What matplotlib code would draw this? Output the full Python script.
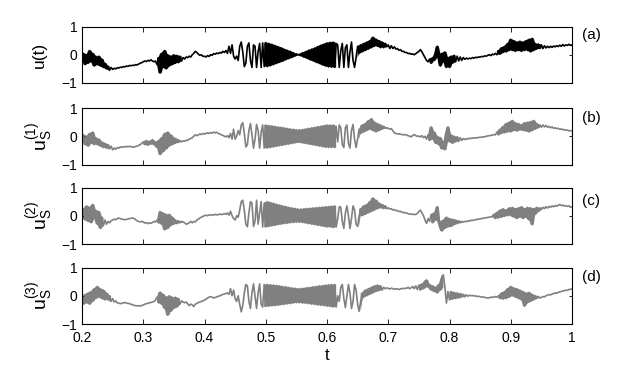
import numpy as np
import matplotlib
matplotlib.use('Agg')
import matplotlib.pyplot as plt

plt.rcParams['font.family'] = ['Liberation Sans', 'DejaVu Sans']
plt.rcParams['mathtext.fontset'] = 'custom'
plt.rcParams['mathtext.rm'] = 'Liberation Sans'
plt.rcParams['mathtext.it'] = 'Liberation Sans:italic'

# intervalo de tempo (amostras a cada 0.0025)
t_inicio = 0.2
t_fim = 1.0

# u(t) - sinal original
u_a = [
  -0.10, 0.05, -0.35, 0.00, -0.30, 0.15, -0.25, 0.05, -0.40, -0.05, -0.35, -0.05, -0.40, -0.15, -0.45, -0.30, -0.50, -0.40, -0.55, -0.45,
  -0.52, -0.48, -0.50, -0.46, -0.47, -0.44, -0.45, -0.42, -0.43, -0.40, -0.41, -0.38, -0.39, -0.37, -0.38, -0.35, -0.36, -0.33, -0.30, -0.28,
  -0.25, -0.22, -0.24, -0.20, -0.22, -0.18, -0.22, -0.25, -0.22, -0.35, -0.10, -0.65, 0.05, -0.45, 0.15, -0.50, 0.00, -0.40, -0.05, -0.35,
  0.00, -0.30, -0.02, -0.28, -0.05, -0.22, -0.10, -0.15, -0.08, -0.10, -0.05, -0.08, 0.00, 0.05, 0.12, 0.08, 0.02, -0.02, 0.00, -0.06,
  -0.05, -0.08, -0.03, -0.06, 0.00, -0.02, 0.04, 0.02, 0.06, 0.04, 0.08, 0.06, 0.12, 0.08, 0.15, 0.05, 0.30, 0.05, 0.35, -0.05,
  -0.15, -0.05, -0.20, 0.30, 0.45, 0.10, -0.42, -0.30, 0.30, 0.42, -0.20, -0.45, 0.35, 0.30, -0.45, 0.10, 0.40, -0.45, 0.42, -0.42,
  0.43, -0.42, 0.40, -0.39, 0.37, -0.35, 0.33, -0.31, 0.29, -0.27, 0.25, -0.23, 0.20, -0.18, 0.16, -0.14, 0.12, -0.10, 0.07, -0.05,
  0.03, -0.01, 0.02, -0.04, 0.07, -0.09, 0.11, -0.13, 0.16, -0.18, 0.20, -0.22, 0.24, -0.27, 0.29, -0.31, 0.34, -0.36, 0.38, -0.40,
  0.42, -0.43, 0.44, -0.44, 0.45, -0.45, 0.40, 0.35, -0.45, 0.15, 0.40, -0.45, 0.25, 0.35, -0.45, 0.10, 0.45, -0.20, -0.45, -0.10,
  0.30, 0.05, 0.35, 0.10, 0.40, 0.15, 0.45, 0.20, 0.50, 0.25, 0.62, 0.30, 0.55, 0.30, 0.50, 0.25, 0.45, 0.25, 0.40, 0.28,
  0.35, 0.22, 0.32, 0.22, 0.28, 0.20, 0.22, 0.16, 0.18, 0.12, 0.12, 0.08, 0.08, 0.04, 0.05, 0.02, 0.03, 0.00, 0.04, 0.08,
  0.12, 0.18, 0.10, 0.00, -0.10, -0.20, -0.25, -0.15, -0.30, -0.10, -0.20, 0.05, 0.30, -0.10, -0.40, 0.05, -0.25, 0.10, -0.45, -0.10,
  -0.45, -0.05, -0.30, -0.02, -0.25, -0.05, -0.22, -0.08, -0.20, -0.10, -0.16, -0.12, -0.15, -0.12, -0.14, -0.10, -0.12, -0.09, -0.10, -0.08,
  -0.08, -0.06, -0.07, -0.04, -0.05, -0.02, 0.00, -0.03, 0.02, 0.00, 0.05, 0.00, 0.15, 0.02, 0.25, 0.08, 0.30, 0.10, 0.40, 0.15,
  0.55, 0.15, 0.50, 0.12, 0.45, 0.15, 0.48, 0.12, 0.45, 0.15, 0.50, 0.15, 0.55, 0.10, 0.58, 0.15, 0.40, 0.20, 0.38, 0.22,
  0.35, 0.22, 0.32, 0.24, 0.30, 0.25, 0.30, 0.26, 0.31, 0.28, 0.32, 0.29, 0.34, 0.30, 0.36, 0.31, 0.35, 0.33, 0.37, 0.33,
  0.35,
]

# u_S^(1)
u_b = [
  -0.05, 0.05, -0.30, 0.00, -0.35, 0.10, -0.25, 0.15, -0.30, -0.05, -0.30, -0.10, -0.35, -0.20, -0.40, -0.25, -0.42, -0.30, -0.45, -0.35,
  -0.48, -0.42, -0.46, -0.40, -0.42, -0.38, -0.39, -0.37, -0.38, -0.36, -0.37, -0.36, -0.37, -0.38, -0.39, -0.36, -0.35, -0.32, -0.30, -0.25,
  -0.20, -0.30, -0.15, -0.32, -0.18, -0.28, -0.12, -0.30, -0.20, -0.40, -0.15, -0.65, -0.05, -0.55, 0.10, -0.45, 0.15, -0.35, 0.05, -0.30,
  -0.05, -0.25, -0.10, -0.22, -0.15, -0.20, -0.16, -0.18, -0.14, -0.15, -0.10, -0.08, -0.05, 0.00, 0.05, 0.02, 0.05, 0.08, 0.06, 0.10,
  0.08, 0.10, 0.12, 0.10, 0.13, 0.11, 0.15, 0.12, 0.14, 0.10, 0.08, 0.05, 0.03, 0.00, -0.02, 0.02, -0.05, 0.10, -0.10, 0.25,
  -0.10, 0.00, 0.20, 0.05, 0.40, 0.48, 0.10, -0.38, -0.30, 0.20, 0.45, 0.05, -0.42, -0.10, 0.42, 0.20, -0.42, 0.15, 0.40, -0.42,
  0.40, -0.42, 0.38, -0.40, 0.37, -0.38, 0.35, -0.36, 0.33, -0.34, 0.32, -0.32, 0.30, -0.30, 0.28, -0.28, 0.26, -0.26, 0.25, -0.24,
  0.23, -0.22, 0.23, -0.23, 0.24, -0.25, 0.26, -0.27, 0.28, -0.29, 0.30, -0.31, 0.32, -0.33, 0.34, -0.35, 0.36, -0.37, 0.38, -0.39,
  0.40, -0.40, 0.40, -0.40, 0.40, -0.40, 0.35, -0.20, 0.40, 0.30, -0.30, -0.40, 0.30, 0.40, -0.25, -0.42, 0.20, 0.42, -0.10, -0.40,
  -0.10, 0.25, 0.10, 0.40, 0.15, 0.45, 0.20, 0.55, 0.25, 0.62, 0.20, 0.50, 0.15, 0.45, 0.20, 0.40, 0.25, 0.35, 0.28, 0.30,
  0.28, 0.25, 0.27, 0.20, 0.12, 0.10, 0.08, 0.09, 0.07, 0.06, 0.05, 0.06, 0.04, 0.02, 0.00, -0.02, 0.03, 0.06, 0.02, 0.00,
  0.00, -0.02, 0.02, -0.05, 0.00, -0.10, 0.05, -0.15, 0.33, -0.10, 0.15, -0.25, 0.00, -0.30, -0.05, -0.45, -0.20, -0.48, 0.10, 0.33,
  -0.20, 0.05, -0.25, 0.00, -0.20, -0.02, -0.18, -0.05, -0.15, -0.08, -0.12, -0.08, -0.10, -0.07, -0.08, -0.06, -0.07, -0.05, -0.06, -0.04,
  -0.04, -0.03, -0.02, -0.02, 0.00, 0.01, 0.02, 0.03, 0.04, 0.06, 0.05, 0.15, 0.05, 0.25, 0.10, 0.35, 0.12, 0.45, 0.15, 0.50,
  0.15, 0.56, 0.20, 0.48, 0.18, 0.45, 0.22, 0.40, 0.20, 0.48, 0.18, 0.50, 0.15, 0.52, 0.20, 0.56, 0.25, 0.45, 0.30, 0.40,
  0.32, 0.40, 0.33, 0.38, 0.32, 0.35, 0.30, 0.33, 0.28, 0.30, 0.27, 0.28, 0.25, 0.26, 0.23, 0.24, 0.21, 0.22, 0.19, 0.20,
  0.18,
]

# u_S^(2)
u_c = [
  0.00, 0.25, -0.15, 0.35, -0.20, 0.30, -0.25, 0.40, -0.10, 0.20, -0.30, 0.15, -0.45, -0.05, -0.35, -0.15, -0.30, -0.20, -0.25, -0.18,
  -0.15, -0.12, -0.14, -0.10, -0.08, -0.10, -0.12, -0.13, -0.14, -0.13, -0.12, -0.10, -0.09, -0.08, -0.10, -0.14, -0.18, -0.20, -0.22, -0.20,
  -0.22, -0.26, -0.24, -0.28, -0.25, -0.27, -0.24, -0.20, -0.22, -0.15, -0.25, 0.15, -0.30, 0.10, -0.50, 0.05, -0.45, 0.05, -0.35, -0.05,
  -0.30, -0.15, -0.28, -0.18, -0.25, -0.20, -0.22, -0.25, -0.30, -0.28, -0.25, -0.20, -0.25, -0.20, -0.22, -0.15, -0.12, -0.08, -0.05, -0.02,
  0.00, 0.02, 0.00, 0.03, 0.02, 0.04, 0.02, 0.05, 0.03, 0.04, 0.06, 0.04, 0.05, 0.08, 0.05, 0.10, 0.02, 0.16, 0.00, -0.10,
  -0.15, 0.00, -0.05, 0.20, 0.50, 0.55, 0.20, -0.30, -0.39, 0.10, 0.50, 0.45, -0.38, -0.20, 0.55, -0.30, 0.10, 0.50, -0.40, 0.45,
  -0.40, 0.50, -0.38, 0.47, -0.36, 0.44, -0.34, 0.41, -0.32, 0.38, -0.30, 0.35, -0.28, 0.33, -0.27, 0.30, -0.25, 0.28, -0.24, 0.26,
  -0.23, 0.24, -0.23, 0.24, -0.24, 0.25, -0.26, 0.26, -0.28, 0.27, -0.30, 0.28, -0.32, 0.29, -0.34, 0.30, -0.36, 0.31, -0.38, 0.32,
  -0.40, 0.33, -0.40, 0.34, -0.42, 0.35, -0.40, -0.10, 0.32, 0.30, -0.20, -0.45, 0.10, 0.35, 0.00, -0.45, -0.10, 0.35, 0.20, -0.30,
  -0.38, 0.00, 0.25, 0.00, 0.35, 0.05, 0.40, 0.10, 0.50, 0.15, 0.63, 0.20, 0.55, 0.25, 0.45, 0.28, 0.40, 0.25, 0.35, 0.25,
  0.28, 0.24, 0.25, 0.20, 0.22, 0.18, 0.18, 0.15, 0.16, 0.12, 0.12, 0.10, 0.10, 0.07, 0.06, 0.05, 0.06, 0.04, 0.05, 0.08,
  0.15, 0.20, 0.10, 0.00, -0.15, -0.27, -0.10, -0.20, 0.05, -0.25, 0.10, -0.15, 0.32, -0.20, -0.40, -0.54, -0.15, -0.45, -0.05, -0.40,
  -0.10, -0.38, -0.12, -0.32, -0.15, -0.28, -0.18, -0.25, -0.20, -0.23, -0.20, -0.21, -0.18, -0.19, -0.16, -0.17, -0.15, -0.14, -0.13, -0.12,
  -0.11, -0.10, -0.09, -0.08, -0.07, -0.06, -0.05, -0.04, -0.03, 0.05, -0.10, 0.12, -0.08, 0.20, -0.05, 0.25, -0.02, 0.20, 0.00, 0.28,
  0.00, 0.30, -0.05, 0.25, -0.10, 0.28, -0.05, 0.32, -0.10, 0.25, -0.05, 0.30, -0.15, 0.28, -0.32, 0.25, 0.05, 0.30, 0.15, 0.28,
  0.22, 0.30, 0.25, 0.32, 0.27, 0.33, 0.30, 0.35, 0.32, 0.36, 0.34, 0.37, 0.40, 0.36, 0.38, 0.34, 0.36, 0.33, 0.35, 0.30,
  0.32,
]

# u_S^(3)
u_d = [
  -0.05, -0.30, 0.05, -0.25, 0.10, -0.30, 0.15, -0.20, 0.25, -0.10, 0.33, -0.05, 0.25, -0.10, 0.20, -0.15, 0.10, -0.15, 0.00, -0.20,
  -0.10, -0.22, -0.18, -0.25, -0.26, -0.28, -0.27, -0.25, -0.24, -0.26, -0.27, -0.28, -0.30, -0.32, -0.34, -0.35, -0.36, -0.35, -0.37, -0.34,
  -0.33, -0.30, -0.28, -0.27, -0.25, -0.24, -0.22, -0.20, -0.15, -0.05, -0.25, 0.13, -0.30, 0.05, -0.45, -0.05, -0.69, 0.00, -0.55, -0.05,
  -0.45, -0.05, -0.40, -0.10, -0.30, -0.18, -0.22, -0.25, -0.22, -0.28, -0.35, -0.30, -0.32, -0.38, -0.30, -0.27, -0.24, -0.22, -0.20, -0.18,
  -0.15, -0.12, -0.08, -0.05, -0.03, -0.05, -0.08, -0.06, -0.04, -0.02, 0.00, 0.02, 0.05, 0.06, 0.08, 0.10, 0.05, 0.25, 0.00, 0.20,
  -0.10, -0.20, 0.00, -0.30, -0.57, -0.35, 0.10, 0.40, 0.35, -0.20, -0.45, 0.10, 0.42, 0.00, -0.45, 0.10, 0.42, -0.30, -0.40, 0.40,
  -0.38, 0.40, -0.37, 0.39, -0.36, 0.38, -0.35, 0.37, -0.34, 0.35, -0.32, 0.33, -0.31, 0.32, -0.29, 0.30, -0.28, 0.28, -0.26, 0.27,
  -0.25, 0.25, -0.25, 0.26, -0.26, 0.27, -0.27, 0.29, -0.28, 0.30, -0.30, 0.32, -0.31, 0.33, -0.33, 0.35, -0.34, 0.36, -0.35, 0.38,
  -0.37, 0.39, -0.38, 0.40, -0.40, 0.40, -0.40, 0.00, -0.20, 0.30, 0.40, -0.10, -0.42, 0.00, 0.40, 0.10, -0.45, -0.20, 0.40, 0.20,
  -0.30, -0.55, -0.20, 0.10, -0.05, 0.20, 0.00, 0.25, 0.05, 0.30, 0.10, 0.35, 0.15, 0.38, 0.18, 0.35, 0.20, 0.30, 0.25, 0.28,
  0.26, 0.24, 0.27, 0.25, 0.23, 0.25, 0.24, 0.22, 0.24, 0.26, 0.25, 0.27, 0.26, 0.30, 0.25, 0.28, 0.33, 0.25, 0.35, 0.22,
  0.38, 0.20, 0.42, 0.25, 0.50, 0.56, 0.30, 0.40, 0.20, 0.35, 0.15, 0.30, 0.10, 0.40, 0.20, 0.60, 0.74, 0.30, -0.26, 0.15,
  -0.15, 0.15, -0.12, 0.12, -0.10, 0.10, -0.08, 0.08, -0.05, 0.05, -0.04, 0.03, -0.02, 0.02, 0.00, 0.01, -0.01, 0.00, -0.03, -0.02,
  -0.03, -0.05, -0.04, -0.06, -0.07, -0.08, -0.07, -0.05, -0.06, -0.04, -0.03, -0.05, 0.00, -0.10, 0.10, -0.12, 0.15, -0.10, 0.25, -0.05,
  0.33, 0.00, 0.28, -0.05, 0.25, -0.10, 0.20, -0.15, 0.15, -0.37, 0.10, -0.25, 0.12, -0.20, 0.05, -0.15, 0.00, -0.10, -0.02, -0.08,
  -0.06, -0.03, -0.04, 0.00, 0.02, 0.04, 0.03, 0.06, 0.08, 0.10, 0.09, 0.12, 0.14, 0.15, 0.17, 0.18, 0.20, 0.19, 0.22, 0.23,
  0.24,
]

# trechos onde o sinal oscila rapido demais e aparece como faixa cheia
densos_a = [(0.200, 0.245), (0.3225, 0.3625), (0.4975, 0.615), (0.650, 0.6975), (0.7675, 0.81), (0.8775, 0.95)]
densos_b = [(0.200, 0.245), (0.300, 0.36), (0.4975, 0.615), (0.6525, 0.70), (0.765, 0.815), (0.8775, 0.9475)]
densos_c = [(0.200, 0.235), (0.3225, 0.365), (0.4975, 0.615), (0.6525, 0.6975), (0.770, 0.82), (0.870, 0.95)]
densos_d = [(0.200, 0.2475), (0.3225, 0.36), (0.4975, 0.615), (0.655, 0.69), (0.750, 0.79), (0.800, 0.825), (0.880, 0.945)]

sinais = [u_a, u_b, u_c, u_d]
densos = [densos_a, densos_b, densos_c, densos_d]
rotulos_y = ['u(t)', r'$\mathregular{u_S^{(1)}}$', r'$\mathregular{u_S^{(2)}}$', r'$\mathregular{u_S^{(3)}}$']
rotulos_painel = ['(a)', '(b)', '(c)', '(d)']
cores = ['black', '#808080', '#808080', '#808080']
xticks = [0.2, 0.3, 0.4, 0.5, 0.6, 0.7, 0.8, 0.9, 1.0]
xtick_rotulos = ['0.2', '0.3', '0.4', '0.5', '0.6', '0.7', '0.8', '0.9', '1']


def faixa(t, vals, intervalos):
  # envelope local (min/max de 3 amostras) so dentro dos trechos densos
  v = np.array(vals)
  lo = np.full(len(v), np.nan)
  hi = np.full(len(v), np.nan)
  for a, b in intervalos:
    for k in range(len(v)):
      if a - 1e-9 <= t[k] <= b + 1e-9:
        j0 = max(k - 1, 0)
        j1 = min(k + 2, len(v))
        lo[k] = v[j0:j1].min()
        hi[k] = v[j0:j1].max()
  return lo, hi


fig = plt.figure(figsize=(6.32, 3.67), dpi=100)

# posicoes dos paineis em fracao da figura (medidas em pixels)
baixos = [1 - 83 / 367, 1 - 164.5 / 367, 1 - 244 / 367, 1 - 324 / 367]
altura = 56.5 / 367
esq = 82 / 632
larg = 490 / 632
pos_rotulo = [35, 118, 201, 277]
coord_ylabel = [-0.071, -0.053, -0.053, -0.053]
tam_ylabel = [12.5, 14, 14, 14]

for i in range(4):
  ax = fig.add_axes([esq, baixos[i], larg, altura])
  vals = sinais[i]
  t = np.linspace(t_inicio, t_fim, len(vals))
  lo, hi = faixa(t, vals, densos[i])
  ax.fill_between(t, lo, hi, color=cores[i], lw=0)
  ax.plot(t, vals, color=cores[i], lw=1.2)
  ax.set_xlim(0.2, 1.0)
  ax.set_ylim(-1, 1)
  ax.set_yticks([-1, 0, 1])
  ax.set_yticklabels(['\u22121', '0', '1'])
  ax.set_xticks(xticks)
  if i == 3:
    ax.set_xticklabels(xtick_rotulos)
    ax.set_xlabel('t', fontsize=12)
    ax.xaxis.set_label_coords(0.5, -0.42)
  else:
    ax.set_xticklabels([])
  ax.tick_params(axis='both', direction='in', top=True, right=True, labelsize=10, width=0.6)
  ax.tick_params(axis='x', length=3.5, pad=5)
  ax.tick_params(axis='y', length=2.5, pad=3.5)
  for sp in ax.spines.values():
    sp.set_linewidth(0.8)
  ax.set_ylabel(rotulos_y[i], fontsize=tam_ylabel[i])
  ax.yaxis.set_label_coords(coord_ylabel[i], 0.5)
  fig.text(582 / 632, 1 - pos_rotulo[i] / 367, rotulos_painel[i], fontsize=11, ha='left', va='center')

plt.savefig('out.png', dpi=100)
